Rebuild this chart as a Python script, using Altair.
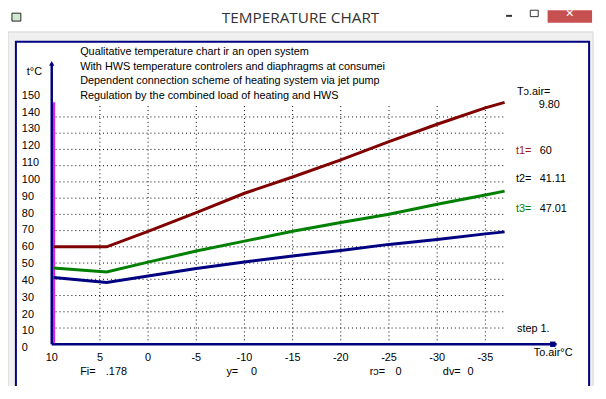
import altair as alt
import pandas as pd

# ---------------- data ----------------
x_air = [9.8, 4.3, 0, -5, -10, -15, -20, -25, -30, -35, -37]
t1 = [60, 60, 69.5, 81, 93, 103, 113.6, 124.8, 135.5, 145.6, 149]
t2 = [41.1, 38, 42, 46.7, 50.7, 54.4, 57.8, 61.5, 64.5, 68, 69.2]
t3 = [47, 44.5, 50.6, 57.4, 63.5, 69.6, 75, 80.1, 86.2, 91.9, 94.3]
series = ["t1", "t2", "t3"]
series_colors = ["#800000", "#000080", "#008000"]

x_ticks = [10, 5, 0, -5, -10, -15, -20, -25, -30, -35]
y_ticks = [0, 10, 20, 30, 40, 50, 60, 70, 80, 90, 100, 110, 120, 130, 140, 150]
grid_x = [5, 0, -5, -10, -15, -20, -25, -30, -35]
grid_y = [10, 20, 30, 40, 50, 60, 70, 80, 90, 100, 110, 120, 130, 140]
grid_x_span = [9.6, -37]
grid_y_top = 147.3
tn_air = 9.8
t_top = 149
axis_x_span = [10, -42.4]
axis_y_top = 173

header_lines = [
    "Qualitative temperature chart ir an open system",
    "With HWS temperature controlers and diaphragms at consumei",
    "Dependent connection scheme of heating system via jet pump",
    "Regulation by the combined load of heating and HWS",
]
title_text = "TEMPERATURE CHART"
readout_labels = ["Tɔ.air=", "t1=", "t2=", "t3="]
readout_values = ["9.80", "60", "41.11", "47.01"]
bottom_labels = ["Fi=", "y=", "rɔ=", "dv="]
bottom_values = [".178", "0", "0", "0"]

FONT = "Liberation Sans"
NAVY = "#000080"

xs = alt.Scale(domain=[5, -35], range=[93, 483], nice=False, zero=False)
ys = alt.Scale(domain=[0, 140], range=[338, 108], nice=False, zero=False)
ys_lab = alt.Scale(domain=[0, 150], range=[342, 86.5], nice=False, zero=False)

one = pd.DataFrame({"a": [0]})


def box(x, x2, y, y2, fill, stroke=None, sw=0):
    kw = dict(fill=fill)
    if stroke:
        kw.update(stroke=stroke, strokeWidth=sw)
    return alt.Chart(one).mark_rect(**kw).encode(
        x=alt.value(x), x2=alt.value(x2), y=alt.value(y), y2=alt.value(y2))


def txt(s, x, y, color="black", size=11, align="left", font=FONT, baseline="middle"):
    return alt.Chart(pd.DataFrame({"t": [s]})).mark_text(
        align=align, baseline=baseline, fontSize=size, font=font, color=color
    ).encode(x=alt.value(x), y=alt.value(y), text="t:N")


layers = []
# window chrome
layers.append(box(0, 592, 22, 400, "#f0f0f0"))
layers.append(box(0, 592, 22, 400, "none", "#d4d4d4", 1))
layers.append(box(8, 588, 32, 382, "white", NAVY, 2))
layers.append(box(4, 13, 3, 11, "#cfe8cf", "#222222", 1))
layers.append(txt(title_text, 296, 13, color="#333333", size=15.5, align="center",
                  font="Open Sans", baseline="alphabetic"))
layers.append(alt.Chart(one).mark_rule(color="#333333", strokeWidth=2).encode(
    x=alt.value(504), x2=alt.value(510), y=alt.value(5.7)))
layers.append(box(528.5, 536.5, 0, 6.5, "none", "#333333", 1))
layers.append(box(546, 591, 0, 12.7, "#c75050"))
layers.append(txt("✕", 568.5, 3.5, color="white", size=11, align="center", font="DejaVu Sans"))

# grid
gx = pd.DataFrame({"x": grid_x, "y0": [0] * len(grid_x), "y1": [grid_y_top] * len(grid_x)})
layers.append(alt.Chart(gx).mark_rule(color="black", strokeWidth=1, strokeDash=[1, 3]).encode(
    x=alt.X("x:Q", scale=xs, axis=None), y=alt.Y("y0:Q", scale=ys, axis=None), y2="y1:Q"))
gy = pd.DataFrame({"y": grid_y, "x0": [grid_x_span[0]] * len(grid_y), "x1": [grid_x_span[1]] * len(grid_y)})
layers.append(alt.Chart(gy).mark_rule(color="black", strokeWidth=1, strokeDash=[1, 3]).encode(
    y=alt.Y("y:Q", scale=ys, axis=None), x=alt.X("x0:Q", scale=xs, axis=None), x2="x1:Q"))

# magenta line at current outdoor temperature
mg = pd.DataFrame({"x": [tn_air], "y0": [0], "y1": [t_top]})
layers.append(alt.Chart(mg).mark_rule(color="#e020e0", strokeWidth=3).encode(
    x=alt.X("x:Q", scale=xs, axis=None), y=alt.Y("y0:Q", scale=ys, axis=None), y2="y1:Q"))

# temperature lines
rows = []
for name, vals in zip(series, [t1, t2, t3]):
    for i, (xv, yv) in enumerate(zip(x_air, vals)):
        rows.append({"s": name, "x": xv, "t": yv, "i": i})
df = pd.DataFrame(rows)
layers.append(alt.Chart(df).mark_line(strokeWidth=3, strokeJoin="miter").encode(
    x=alt.X("x:Q", scale=xs, axis=None),
    y=alt.Y("t:Q", scale=ys, axis=None),
    color=alt.Color("s:N", scale=alt.Scale(domain=series, range=series_colors), legend=None),
    order="i:Q"))

# axes
ay = pd.DataFrame({"x": [axis_x_span[0]], "y0": [0], "y1": [axis_y_top]})
layers.append(alt.Chart(ay).mark_rule(color=NAVY, strokeWidth=2.5).encode(
    x=alt.X("x:Q", scale=xs, axis=None), y=alt.Y("y0:Q", scale=ys, axis=None), y2="y1:Q"))
layers.append(alt.Chart(ay).mark_point(shape="triangle-up", filled=True, color=NAVY, size=28, opacity=1).encode(
    x=alt.X("x:Q", scale=xs, axis=None), y=alt.Y("y1:Q", scale=ys, axis=None)))
ax = pd.DataFrame({"x0": [axis_x_span[0]], "x1": [axis_x_span[1]], "y": [0]})
layers.append(alt.Chart(ax).mark_rule(color=NAVY, strokeWidth=2.5).encode(
    y=alt.Y("y:Q", scale=ys, axis=None), x=alt.X("x0:Q", scale=xs, axis=None), x2="x1:Q"))
sq = pd.DataFrame({"x": [axis_x_span[1] + 0.4], "y": [0]})
layers.append(alt.Chart(sq).mark_square(color=NAVY, size=30, opacity=1).encode(
    x=alt.X("x:Q", scale=xs, axis=None), y=alt.Y("y:Q", scale=ys, axis=None)))

# tick labels
xt = pd.DataFrame({"x": x_ticks, "lab": [str(v) for v in x_ticks]})
layers.append(alt.Chart(xt).mark_text(fontSize=11, font=FONT, baseline="middle", align="center").encode(
    x=alt.X("x:Q", scale=xs, axis=None), y=alt.value(351.5), text="lab:N"))
yt = pd.DataFrame({"y": y_ticks, "lab": [str(v) for v in y_ticks]})
layers.append(alt.Chart(yt).mark_text(fontSize=11, font=FONT, baseline="middle", align="left").encode(
    y=alt.Y("y:Q", scale=ys_lab, axis=None), x=alt.value(14), text="lab:N"))

# texts
layers.append(txt("t°C", 19, 63))
for i, line in enumerate(header_lines):
    layers.append(txt(line, 73, 42 + 15 * i))
layers.append(txt(readout_labels[0], 515, 82.7))
layers.append(txt(readout_values[0], 537, 96))
ry = [142, 171.3, 201.3]
rc = ["#a01818", "black", "#008000"]
for i in range(3):
    layers.append(txt(readout_labels[i + 1], 514, ry[i], color=rc[i]))
    layers.append(txt(readout_values[i + 1], 538, ry[i]))
layers.append(txt("step 1.", 515, 323))
layers.append(txt("To.air°C", 532, 347))
bx_l = [73, 221, 366, 440]
bx_v = [99, 246, 392, 465]
for i in range(4):
    layers.append(txt(bottom_labels[i], bx_l[i], 366))
    layers.append(txt(bottom_values[i], bx_v[i], 366))

chart = alt.layer(*layers).resolve_scale(y="independent").properties(
    width=597, height=378, autosize=alt.AutoSizeParams(type="none"), padding=0,
    background="white"
).configure_view(stroke=None)

chart.save("out.html", embed_options={"renderer": "svg", "actions": False})
